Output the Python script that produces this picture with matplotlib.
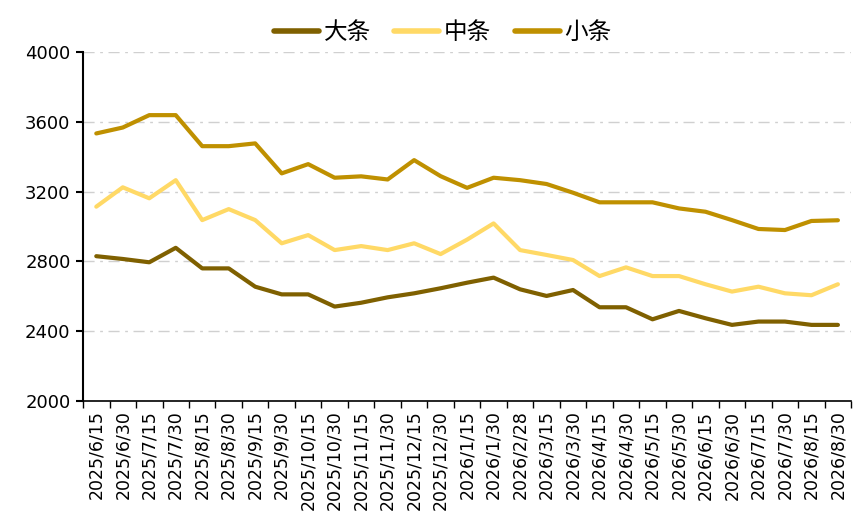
import matplotlib
matplotlib.use('Agg')
import matplotlib.pyplot as plt

plt.rcParams['font.family'] = ['Noto Sans CJK SC', 'DejaVu Sans']

dates = ['2025/6/15', '2025/6/30', '2025/7/15', '2025/7/30', '2025/8/15', '2025/8/30',
         '2025/9/15', '2025/9/30', '2025/10/15', '2025/10/30', '2025/11/15', '2025/11/30',
         '2025/12/15', '2025/12/30', '2026/1/15', '2026/1/30', '2026/2/28', '2026/3/15',
         '2026/3/30', '2026/4/15', '2026/4/30', '2026/5/15', '2026/5/30', '2026/6/15',
         '2026/6/30', '2026/7/15', '2026/7/30', '2026/8/15', '2026/8/30']

large = [2830, 2814, 2795, 2878, 2760, 2760, 2655, 2611, 2611, 2541, 2563, 2594,
         2617, 2646, 2678, 2707, 2640, 2602, 2636, 2537, 2537, 2468, 2516, 2474,
         2436, 2455, 2455, 2436, 2436]
medium = [3114, 3225, 3162, 3266, 3037, 3100, 3037, 2904, 2951, 2865, 2888, 2865,
          2904, 2842, 2925, 3018, 2865, 2837, 2808, 2716, 2766, 2716, 2716, 2669,
          2627, 2655, 2617, 2606, 2669]
small = [3534, 3568, 3639, 3639, 3461, 3461, 3477, 3305, 3358, 3280, 3288, 3270,
         3381, 3289, 3222, 3280, 3266, 3244, 3194, 3139, 3139, 3139, 3104, 3085,
         3037, 2986, 2980, 3032, 3036]

series = [('大条', large, '#7F6000'), ('中条', medium, '#FFD966'), ('小条', small, '#BF9000')]

fig = plt.figure(figsize=(8.65, 5.22), dpi=100)
ax = fig.add_axes([0.096, 0.232, 0.888, 0.668])

x = list(range(len(dates)))
for name, vals, color in series:
    ax.plot(x, vals, color=color, linewidth=3, label=name, solid_capstyle='round')

ax.set_xlim(-0.5, len(dates) - 0.5)
ax.set_ylim(2000, 4000)
ax.set_yticks([2000, 2400, 2800, 3200, 3600, 4000])
ax.tick_params(axis='y', labelsize=13, length=5, width=1.5, pad=4)
for lbl in ax.get_yticklabels():
    lbl.set_family('DejaVu Sans')
ax.yaxis.grid(True, color='#D0D0D0', linestyle=(0, (8, 4, 2, 4)), linewidth=1)
ax.set_axisbelow(True)

ax.set_xticks(x)
ax.set_xticklabels(dates, rotation=90, fontsize=12.5, family='DejaVu Sans')
ax.tick_params(axis='x', length=0, pad=7)
ax.set_xticks([i - 0.5 for i in range(len(dates) + 1)], minor=True)
ax.tick_params(axis='x', which='minor', length=5, width=1)

for s in ['top', 'right']:
    ax.spines[s].set_visible(False)
ax.spines['left'].set_linewidth(1.5)
ax.spines['bottom'].set_linewidth(1.2)

leg = fig.legend(loc='upper center', bbox_to_anchor=(0.512, 1.0), ncol=3, frameon=False,
                 fontsize=17, handlelength=1.9, columnspacing=1.0, handletextpad=0.2)
for h in leg.get_lines():
    h.set_linewidth(4)

fig.savefig('out.png', dpi=100)
